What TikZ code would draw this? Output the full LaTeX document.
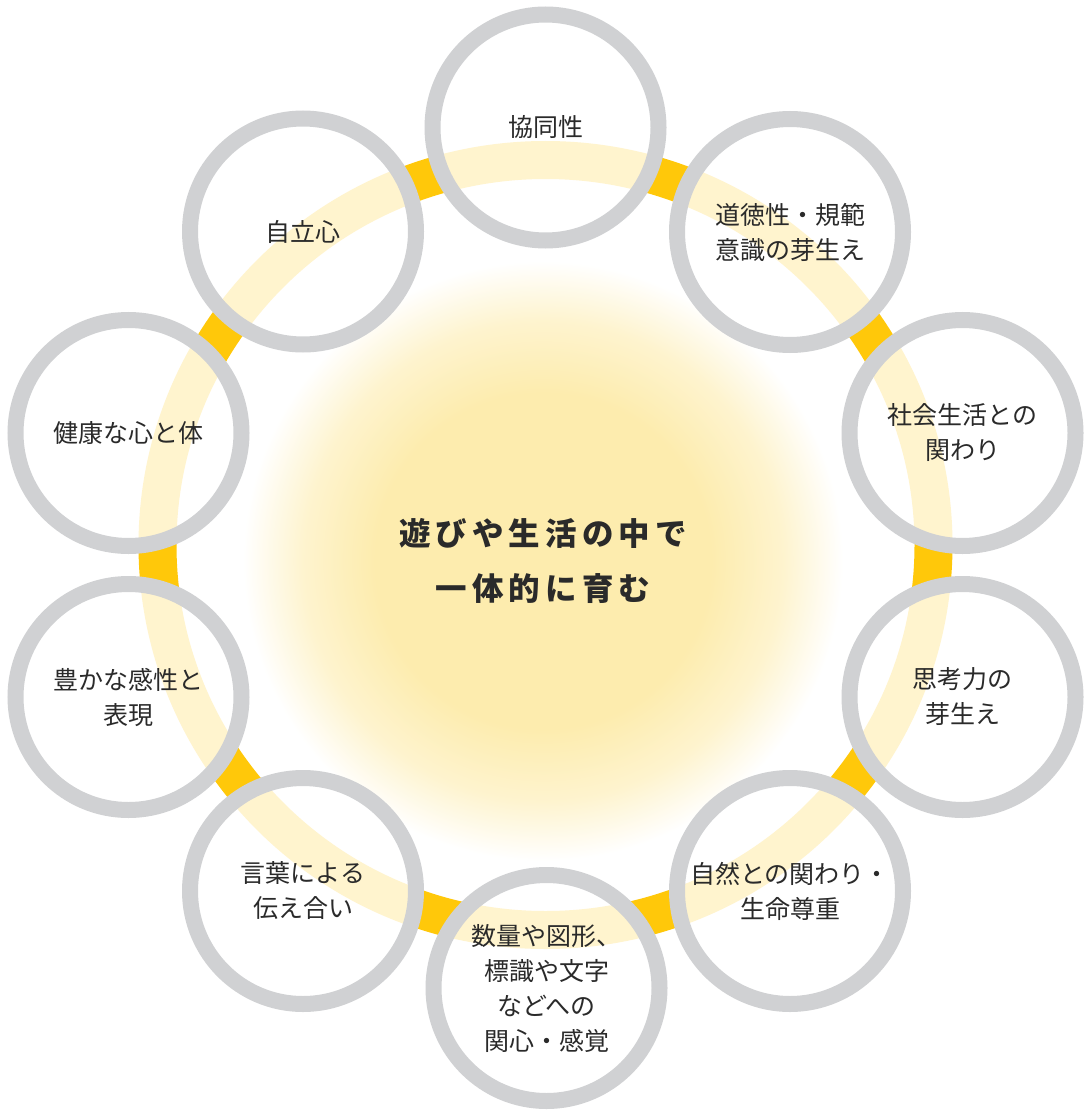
\documentclass[tikz,border=0pt]{standalone}
\usepackage{fontspec}
\newfontfamily\jp{Noto Sans CJK JP}
\newfontfamily\jptitle[LetterSpace=16]{Noto Sans CJK JP}
\definecolor{ringY}{HTML}{FFC80A}
\definecolor{grayc}{HTML}{D0D1D3}
\definecolor{glowc}{HTML}{FDECAE}
\definecolor{txt}{HTML}{2A2A2A}
\colorlet{glowmid}{glowc!60!white}
\pgfdeclareradialshading{glowshade}{\pgfpoint{0bp}{0bp}}{color(0bp)=(glowc); color(14bp)=(glowc); color(20bp)=(glowmid); color(25bp)=(white); color(50bp)=(white)}
\tikzset{
  circ/.style={circle, draw=grayc, line width=16pt, fill=white, fill opacity=0.8, text opacity=1,
    minimum size=226pt, inner sep=0pt, align=center, text=txt,
    font=\jp\fontsize{25}{35}\selectfont},
  glowdisc/.style={circle, minimum size=600pt, inner sep=0pt, shade, shading=glowshade,
    align=center, text=txt, font=\jptitle\bfseries\fontsize{31.5}{55}\selectfont},
  ringline/.style={draw=ringY, line width=38pt}
}
\begin{document}
\begin{tikzpicture}[x=1pt, y=-1pt]
\fill[white] (0,0) rectangle (1087,1110);
\useasboundingbox (0,0) rectangle (1087,1110);
\node[glowdisc] (title) at (543,561) {遊びや生活の中で\\一体的に育む};
\coordinate (c) at (545.5,545);
\draw[ringline] (c) circle[x radius=388, y radius=385];
\node[circ] (kyodo)  at (545.5,127.5) {協同性};
\node[circ] (dotoku) at (790,232)     {道徳性・規範\\意識の芽生え};
\node[circ] (shakai) at (962.5,433)   {社会生活との\\関わり};
\node[circ] (shiko)  at (962.5,697)   {思考力の\\芽生え};
\node[circ] (shizen) at (790,891)     {自然との関わり・\\生命尊重};
\node[circ] (suryo)  at (546.5,988)   {数量や図形、\\標識や文字\\などへの\\関心・感覚};
\node[circ] (kotoba) at (303,891)     {言葉による\\伝え合い};
\node[circ] (yutaka) at (128.5,697)   {豊かな感性と\\表現};
\node[circ] (kenko)  at (128.5,433)   {健康な心と体};
\node[circ] (jiritsu) at (303,231.5)  {自立心};
\end{tikzpicture}
\end{document}
